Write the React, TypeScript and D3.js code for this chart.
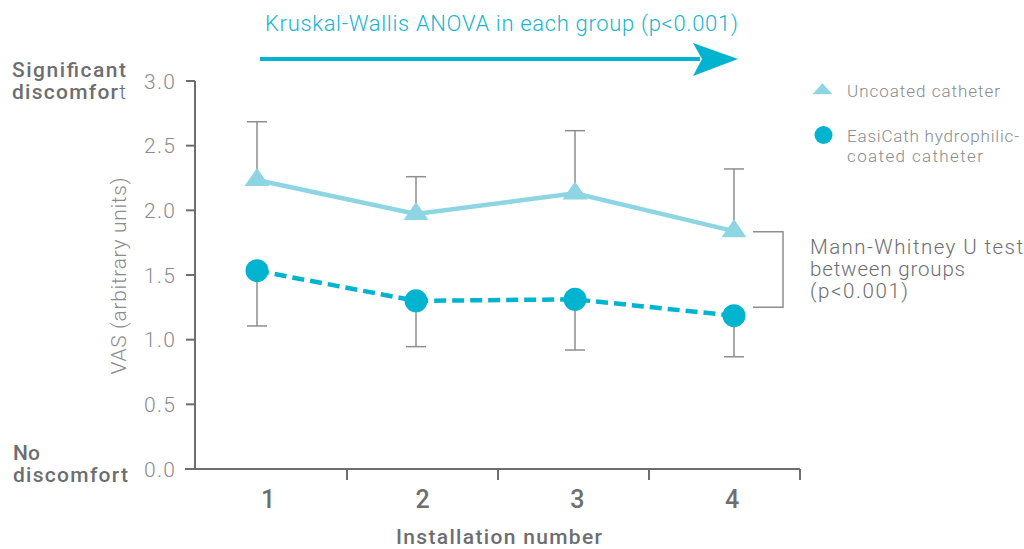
import React from "react";
import * as d3 from "d3";

const installations = [1, 2, 3, 4];
const xTickLabels = ["1", "2", "3", "4"];
const uncoatedMean = [2.235, 1.972, 2.131, 1.839];
const uncoatedUpper = [2.685, 2.26, 2.616, 2.32];
const coatedMean = [1.533, 1.3, 1.312, 1.185];
const coatedLower = [1.106, 0.946, 0.92, 0.868];
const yTicks = [0, 0.5, 1.0, 1.5, 2.0, 2.5, 3.0];
const seriesNames = ["Uncoated catheter", "EasiCath hydrophilic-", "coated catheter"];

const W = 1024;
const H = 549;
const FONT = "Roboto, 'Liberation Sans', Arial, sans-serif";
const C_TRI = "#8dd5e3";
const C_CIR = "#00b4d0";
const C_TEXT = "#6d6e71";
const C_LIGHT = "#8a8b8d";
const C_ERR = "#8e8e8e";

export default function App() {
  const y = d3.scaleLinear().domain([0, 3]).range([469, 81]);
  const xPts = d3.scaleLinear().domain([1, 4]).range([257, 734]);
  const xLab = d3.scalePoint<number>().domain(installations).range([268, 732]);
  const xBand = d3.scaleBand<number>().domain(installations).range([196, 800]);
  const xTickPos = installations.map((d) => (xBand(d) as number) + xBand.bandwidth());

  const line = d3
    .line<number>()
    .x((_, i) => xPts(installations[i]))
    .y((d) => y(d));

  const triPath = (cx: number, cy: number, w: number, h: number) => {
    const p = d3.path();
    p.moveTo(cx, cy - (2 * h) / 3);
    p.lineTo(cx + w / 2, cy + h / 3);
    p.lineTo(cx - w / 2, cy + h / 3);
    p.closePath();
    return p.toString();
  };

  return (
    <svg
      width={W}
      height={H}
      style={{ position: "absolute", left: 0, top: 0, background: "#fff" }}
      fontFamily={FONT}
    >
      {/* Title + arrow */}
      <text
        x={265}
        y={31}
        fontSize={22}
        fontWeight={300}
        fill="#17b5cf"
        textLength={473}
        lengthAdjust="spacing"
      >
        Kruskal-Wallis ANOVA in each group (p&lt;0.001)
      </text>
      <line x1={260} x2={700} y1={59} y2={59} stroke={C_CIR} strokeWidth={4} />
      <path d="M 738 59 L 693 43 L 702 59 L 693 76 Z" fill={C_CIR} />

      {/* Left descriptors */}
      <text fontSize={21} fontWeight={500} fill={C_TEXT}>
        <tspan x={12} y={77} textLength={114} lengthAdjust="spacing">Significant</tspan>
        <tspan x={12} y={99} textLength={114} lengthAdjust="spacing">
          discomfor<tspan fontWeight={300}>t</tspan>
        </tspan>
      </text>
      <text fontSize={21} fontWeight={500} fill={C_TEXT}>
        <tspan x={13} y={460}>No</tspan>
        <tspan x={13} y={482} textLength={115} lengthAdjust="spacing">discomfort</tspan>
      </text>

      {/* Y axis */}
      <line x1={195} x2={195} y1={y(3)} y2={y(0)} stroke={C_TEXT} strokeWidth={2} />
      {yTicks.map((t) => (
        <g key={t}>
          <line x1={186} x2={195} y1={y(t)} y2={y(t)} stroke={C_TEXT} strokeWidth={2} />
          <text
            x={175}
            y={y(t)}
            dy="0.36em"
            textAnchor="end"
            fontSize={21}
            fontWeight={300}
            fill={C_LIGHT}
            textLength={31}
            lengthAdjust="spacing"
          >
            {d3.format(".1f")(t)}
          </text>
        </g>
      ))}
      <text
        transform={`translate(126, 276) rotate(-90)`}
        textAnchor="middle"
        fontSize={21}
        fontWeight={300}
        fill={C_LIGHT}
        textLength={197}
        lengthAdjust="spacing"
      >
        VAS (arbitrary units)
      </text>

      {/* X axis */}
      <line x1={185} x2={800} y1={469} y2={469} stroke={C_TEXT} strokeWidth={2} />
      {xTickPos.map((p, i) => (
        <line key={i} x1={p} x2={p} y1={469} y2={480} stroke={C_TEXT} strokeWidth={2} />
      ))}
      {installations.map((d, i) => (
        <text
          key={d}
          x={xLab(d)}
          y={508}
          textAnchor="middle"
          fontSize={25}
          fontWeight={500}
          fill={C_TEXT}
        >
          {xTickLabels[i]}
        </text>
      ))}
      <text
        x={396}
        y={544}
        fontSize={21}
        fontWeight={500}
        fill={C_TEXT}
        textLength={206}
        lengthAdjust="spacing"
      >
        Installation number
      </text>

      {/* Error bars */}
      {installations.map((d, i) => {
        const cx = xPts(d);
        return (
          <g key={"eu" + d} stroke={C_ERR} strokeWidth={1.5}>
            <line x1={cx} x2={cx} y1={y(uncoatedMean[i])} y2={y(uncoatedUpper[i])} />
            <line x1={cx - 10} x2={cx + 10} y1={y(uncoatedUpper[i])} y2={y(uncoatedUpper[i])} />
            <line x1={cx} x2={cx} y1={y(coatedMean[i])} y2={y(coatedLower[i])} />
            <line x1={cx - 10} x2={cx + 10} y1={y(coatedLower[i])} y2={y(coatedLower[i])} />
          </g>
        );
      })}

      {/* Lines */}
      <path d={line(uncoatedMean) || ""} fill="none" stroke={C_TRI} strokeWidth={4.5} />
      <path
        d={line(coatedMean) || ""}
        fill="none"
        stroke={C_CIR}
        strokeWidth={4.5}
        strokeDasharray="12 6"
      />

      {/* Markers */}
      {installations.map((d, i) => (
        <path key={"t" + d} d={triPath(xPts(d), y(uncoatedMean[i]), 25, 18)} fill={C_TRI} />
      ))}
      {installations.map((d, i) => (
        <circle key={"c" + d} cx={xPts(d)} cy={y(coatedMean[i])} r={11.5} fill={C_CIR} />
      ))}

      {/* Bracket */}
      <path
        d={`M 753 ${y(1.835)} H 783 V ${y(1.25)} H 753`}
        fill="none"
        stroke={C_ERR}
        strokeWidth={1.5}
      />
      <text fontSize={20.5} fontWeight={300} fill={C_TEXT}>
        <tspan x={810} y={254} textLength={213} lengthAdjust="spacing">Mann-Whitney U test</tspan>
        <tspan x={810} y={276} textLength={155} lengthAdjust="spacing">between groups</tspan>
        <tspan x={810} y={298} textLength={98} lengthAdjust="spacing">(p&lt;0.001)</tspan>
      </text>

      {/* Legend */}
      <path d={triPath(822.5, 90.5, 20, 11)} fill={C_TRI} />
      <text x={847} y={97} fontSize={17} fontWeight={300} fill={C_LIGHT} textLength={153} lengthAdjust="spacing">
        {seriesNames[0]}
      </text>
      <circle cx={823.5} cy={135} r={9} fill={C_CIR} />
      <text fontSize={17} fontWeight={300} fill={C_LIGHT}>
        <tspan x={847} y={141.5} textLength={172} lengthAdjust="spacing">{seriesNames[1]}</tspan>
        <tspan x={847} y={162} textLength={136} lengthAdjust="spacing">{seriesNames[2]}</tspan>
      </text>
    </svg>
  );
}
